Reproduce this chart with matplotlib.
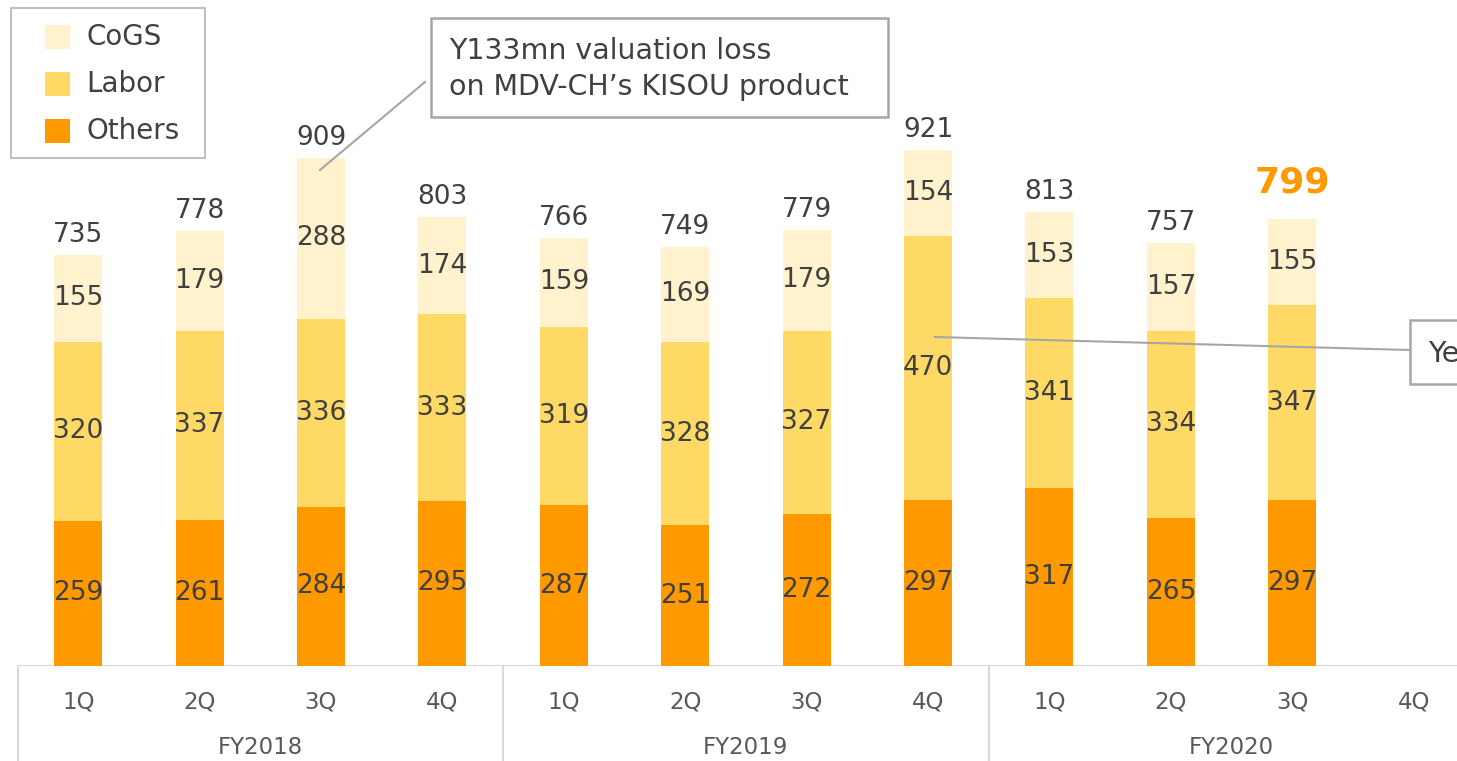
import numpy as np
import matplotlib
matplotlib.use('Agg')
import matplotlib.pyplot as plt
from matplotlib.patches import Rectangle

# ---- data ----
years = ['FY2018', 'FY2019', 'FY2020']
quarters = ['1Q', '2Q', '3Q', '4Q']
others = [259, 261, 284, 295, 287, 251, 272, 297, 317, 265, 297]
labor = [320, 337, 336, 333, 319, 328, 327, 470, 341, 334, 347]
cogs = [155, 179, 288, 174, 159, 169, 179, 154, 153, 157, 155]
totals = [735, 778, 909, 803, 766, 749, 779, 921, 813, 757, 799]

c_others = '#FF9900'
c_labor = '#FFD966'
c_cogs = '#FFF2CC'
txt_col = '#404040'
grid_col = '#D9D9D9'

W, H = 1457, 761
fig = plt.figure(figsize=(W / 100, H / 100), dpi=100)
# axes placed so the 12 quarter slots run off the right edge, like the source
left_px, slot_px, base_px, ppu = 17.5, 121.4, 666.0, 0.56
ax = fig.add_axes([left_px / W, (H - base_px) / H, 12 * slot_px / W, base_px / H])
ax.set_xlim(-0.5, 11.5)
ax.set_ylim(0, base_px / ppu)
ax.axis('off')


def px2x(px):
    return (px - left_px) / slot_px - 0.5


def px2y(py):
    return (base_px - py) / ppu


x = np.arange(len(totals))
bw = 0.395
b1 = np.array(others)
b2 = b1 + np.array(labor)
ax.bar(x, others, bw, color=c_others, zorder=2)
ax.bar(x, labor, bw, bottom=b1, color=c_labor, zorder=2)
ax.bar(x, cogs, bw, bottom=b2, color=c_cogs, zorder=2)

fs = 19
for i in x:
    ax.text(i, others[i] / 2, str(others[i]), ha='center', va='center', fontsize=fs, color=txt_col, zorder=3)
    ax.text(i, b1[i] + labor[i] / 2, str(labor[i]), ha='center', va='center', fontsize=fs, color=txt_col, zorder=3)
    ax.text(i, b2[i] + cogs[i] / 2, str(cogs[i]), ha='center', va='center', fontsize=fs, color=txt_col, zorder=3)
    top = b2[i] + cogs[i]
    if i == len(totals) - 1:
        ax.annotate(str(totals[i]), (i, top), xytext=(0, 14), textcoords='offset points',
                    ha='center', va='bottom', fontsize=26, fontweight='bold', color='#FF9900')
    else:
        ax.annotate(str(totals[i]), (i, top), xytext=(0, 5), textcoords='offset points',
                    ha='center', va='bottom', fontsize=fs, color=txt_col)

# baseline and category table below the axis
ax.axhline(0, color=grid_col, lw=1.5, zorder=1)
tr = ax.get_xaxis_transform()
for g in range(len(years)):
    xs = -0.5 + 4 * g
    ax.plot([xs, xs], [0, -0.15], color=grid_col, lw=1.5, transform=tr, clip_on=False)
    ax.text(xs + 2, -(748 - base_px) / base_px, years[g], ha='center', va='center', fontsize=16.5,
            color='#595959', transform=tr, clip_on=False)
    for q in range(4):
        ax.text(xs + 0.5 + q, -0.054, quarters[q], ha='center', va='center', fontsize=16.5,
                color='#595959', transform=tr, clip_on=False)

# callout 1
ax.plot([px2x(320), px2x(425)], [px2y(170), px2y(82)], color='#A6A6A6', lw=1.5, zorder=4)
ax.add_patch(Rectangle((px2x(431), px2y(117)), px2x(888) - px2x(431), px2y(18) - px2y(117),
                       facecolor='white', edgecolor='#A6A6A6', lw=1.8, zorder=4))
ax.text(px2x(449), px2y(69), 'Y133mn valuation loss\non MDV-CH\u2019s KISOU product',
        ha='left', va='center', fontsize=20.5, color=txt_col, linespacing=1.4, zorder=5)

# callout 2 (runs off the right edge)
ax.plot([px2x(935), px2x(1410)], [px2y(337), px2y(350)], color='#A6A6A6', lw=1.5, zorder=4)
ax.add_patch(Rectangle((px2x(1410), px2y(384)), px2x(1500) - px2x(1410), px2y(320) - px2y(384),
                       facecolor='white', edgecolor='#A6A6A6', lw=1.8, zorder=4, clip_on=False))
ax.text(px2x(1428), px2y(354), 'Ye', ha='left', va='center', fontsize=20.5, color=txt_col, zorder=5)

# legend box drawn by hand to match the source spacing
leg_names = ['CoGS', 'Labor', 'Others']
leg_cols = [c_cogs, c_labor, c_others]
fig.patches.append(Rectangle((11 / W, 1 - 158 / H), 194 / W, 150 / H, transform=fig.transFigure,
                             facecolor='white', edgecolor='#BFBFBF', lw=1.5))
for k in range(3):
    yc = 37 + 47 * k
    fig.patches.append(Rectangle((45 / W, 1 - (yc + 12) / H), 25 / W, 24 / H, transform=fig.transFigure,
                                 facecolor=leg_cols[k], edgecolor='none'))
    fig.text(86 / W, 1 - yc / H, leg_names[k], ha='left', va='center', fontsize=20, color=txt_col)

fig.savefig('out.png', dpi=100)
